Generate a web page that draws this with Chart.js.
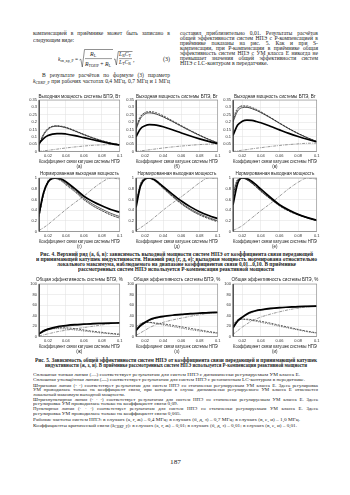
<!DOCTYPE html>
<html><head><meta charset="utf-8">
<script src="https://cdn.jsdelivr.net/npm/chart.js@4.4.1/dist/chart.umd.min.js"></script>
<style>
html,body{margin:0;padding:0;background:#fff;}
#page{position:relative;width:350px;height:495px;overflow:hidden;background:#fff;}
canvas{position:absolute;}
sub{font-size:70%;vertical-align:-0.25em;line-height:0;}
</style></head><body><div id="page"></div>
<script>
// ---------- data ----------
const kCoupling = [0.01,0.015,0.02,0.025,0.03,0.035,0.04,0.05,0.06,0.07,0.08,0.09,0.1];
const xTickVals = [0.02,0.04,0.06,0.08,0.1];
const xTickLabels = ['0.02','0.04','0.06','0.08','0.1'];
const powTickVals = [0,0.05,0.1,0.15,0.2,0.25,0.3,0.35];
const powTickLabels = ['0','0.05','0.1','0.15','0.2','0.25','0.3','0.35'];
const normTickVals = [0,0.2,0.4,0.6,0.8,1];
const normTickLabels = ['0','0.2','0.4','0.6','0.8','1'];
const effTickVals = [0,20,40,60,80,100];
const effTickLabels = ['0','20','40','60','80','100'];

// (а) 0.4 MHz output power, W
const powA_lc   = [0.055,0.088,0.108,0.118,0.122,0.122,0.119,0.108,0.094,0.080,0.066,0.054,0.044];
const powA_dyn  = [0.040,0.110,0.150,0.168,0.172,0.169,0.162,0.140,0.115,0.092,0.073,0.057,0.046];
const powA_stPk = [0.045,0.115,0.155,0.171,0.175,0.172,0.165,0.142,0.117,0.094,0.074,0.058,0.047];
const powA_st09 = [0.000,0.004,0.008,0.012,0.016,0.020,0.024,0.031,0.037,0.042,0.045,0.047,0.046];
const powA_st005= [0.050,0.120,0.157,0.171,0.173,0.169,0.161,0.137,0.112,0.090,0.071,0.056,0.044];
// (б) 0.7 MHz
const powB_lc   = [0.100,0.155,0.175,0.182,0.181,0.176,0.168,0.148,0.126,0.105,0.086,0.069,0.054];
const powB_dyn  = [0.150,0.225,0.255,0.262,0.258,0.248,0.235,0.205,0.172,0.140,0.110,0.082,0.058];
const powB_stPk = [0.160,0.235,0.265,0.272,0.268,0.257,0.243,0.210,0.176,0.143,0.112,0.084,0.060];
const powB_st09 = [0.000,0.004,0.008,0.012,0.016,0.020,0.024,0.031,0.037,0.042,0.047,0.050,0.052];
const powB_st005= [0.175,0.240,0.262,0.266,0.260,0.249,0.235,0.203,0.170,0.138,0.108,0.081,0.057];
// (в) 1.0 MHz
const powC_lc   = [0.110,0.180,0.205,0.213,0.211,0.204,0.195,0.172,0.147,0.123,0.102,0.083,0.066];
const powC_dyn  = [0.200,0.275,0.298,0.300,0.292,0.280,0.265,0.230,0.192,0.155,0.122,0.093,0.068];
const powC_stPk = [0.210,0.288,0.310,0.310,0.300,0.287,0.270,0.233,0.194,0.157,0.123,0.094,0.068];
const powC_st09 = [0.000,0.004,0.009,0.013,0.018,0.022,0.026,0.034,0.041,0.047,0.052,0.056,0.057];
const powC_st005= [0.230,0.295,0.308,0.303,0.293,0.280,0.264,0.229,0.191,0.154,0.121,0.092,0.066];

// (г) normalised output power, 0.4 MHz
const normA_lc   = [0.33,0.72,0.92,0.99,1.00,0.98,0.93,0.80,0.66,0.56,0.48,0.41,0.36];
const normA_dyn  = [0.28,0.70,0.93,1.00,0.99,0.96,0.90,0.77,0.62,0.51,0.42,0.34,0.28];
const normA_stPk = [0.27,0.68,0.92,1.00,0.99,0.95,0.88,0.75,0.60,0.48,0.39,0.31,0.25];
const normA_st09 = [0.02,0.07,0.13,0.20,0.27,0.34,0.41,0.54,0.66,0.80,0.92,1.00,0.98];
const normA_st005= [0.30,0.72,0.95,1.00,0.98,0.94,0.87,0.74,0.59,0.48,0.39,0.31,0.25];
// (д) 0.7 MHz
const normB_lc   = [0.45,0.85,0.98,1.00,0.97,0.91,0.84,0.70,0.57,0.46,0.37,0.30,0.24];
const normB_dyn  = [0.50,0.88,0.99,1.00,0.96,0.90,0.82,0.67,0.53,0.42,0.33,0.26,0.20];
const normB_stPk = [0.48,0.87,0.99,1.00,0.96,0.89,0.81,0.66,0.52,0.40,0.31,0.24,0.18];
const normB_st09 = [0.02,0.07,0.13,0.19,0.26,0.33,0.40,0.53,0.65,0.78,0.91,1.00,0.99];
const normB_st005= [0.55,0.90,1.00,0.99,0.95,0.88,0.80,0.65,0.51,0.40,0.31,0.24,0.19];
// (е) 1.0 MHz
const normC_lc   = [0.50,0.90,1.00,0.99,0.94,0.87,0.79,0.64,0.50,0.40,0.32,0.26,0.21];
const normC_dyn  = [0.68,0.96,1.00,0.97,0.91,0.84,0.76,0.62,0.49,0.39,0.32,0.26,0.21];
const normC_stPk = [0.66,0.95,1.00,0.97,0.91,0.83,0.75,0.61,0.48,0.38,0.31,0.25,0.20];
const normC_st09 = [0.02,0.06,0.11,0.18,0.25,0.32,0.39,0.52,0.66,0.80,0.92,1.00,0.98];
const normC_st005= [0.75,0.98,1.00,0.96,0.90,0.83,0.75,0.61,0.48,0.38,0.31,0.25,0.20];

// (ж) overall efficiency, %, 0.4 MHz
const effA_lc   = [5,10.5,14,16.5,18.5,20,21,22.5,23.5,24.5,25,25.5,26];
const effA_dyn  = [4,9,12.5,15,17,18.5,19.5,21.5,23,24,24.8,25.3,25.8];
const effA_stPk = [5,11,14,15.5,16.5,16.8,16.5,15,12.5,10,8,6,4.5];
const effA_st09 = [1,3,5,7,9,10.5,12,14.5,17,19.5,22,24.5,26];
const effA_st005= [7,12,13.5,14.5,15,14.8,14.3,12.5,10.5,8.5,6.5,5,3.5];
// (з) 0.7 MHz
const effB_lc   = [12,21,27,32,35,37,38.5,40.5,42,43.5,44.5,45.5,46];
const effB_dyn  = [10,19,25.5,30.5,34,36,37.5,40,41.5,43,44,45,45.5];
const effB_stPk = [15,23,26.5,27,26,25,24,21.5,18.5,15.5,12.5,9.5,7];
const effB_st09 = [2,7,12,17,21,24.5,27,31.5,35,38.5,41.5,44,45.5];
const effB_st005= [18,25,27,26.5,25,23.5,22,19,16,13,10.5,8,6];
// (и) 1.0 MHz
const effC_lc   = [17,30,37,43,47,49.5,51,53.5,55,56,57,57.5,58];
const effC_dyn  = [15,28,35.5,41.5,45.5,48.5,50,52.5,54.5,55.5,56.5,57.5,58];
const effC_stPk = [20,30,33,33,32,30.5,29,25.5,21.5,17.5,13.5,10,7];
const effC_st09 = [4,11,18,24,29.5,33.5,37,42.5,47,51,54,56.5,58];
const effC_st005= [24,32,33,32,30.5,29,27,23.5,19.5,16,12.5,9,6.5];

const titlePow = 'Выходная мощность системы БПЭ, Вт';
const titleNorm = 'Нормированная выходная мощность';
const titleEff = 'Общая эффективность системы БПЭ, %';
const xAxisTitle = 'Коэффициент связи катушек системы НПЭ';

// ---------- page helpers ----------
const page = document.getElementById('page');
const SERIF = '"Liberation Serif","Times New Roman",serif';
const SANS = '"Liberation Sans",Arial,sans-serif';
function txt(x, yc, w, html, o = {}) {
  const size = o.size || 5;
  const d = document.createElement('div');
  d.style.cssText = `position:absolute;white-space:nowrap;font-family:${o.fam||SERIF};font-size:${size}px;line-height:${size}px;font-weight:${o.bold?'bold':'normal'};font-style:${o.italic?'italic':'normal'};color:#1c1c1c;`;
  d.innerHTML = html;
  page.appendChild(d);
  const tw = d.getBoundingClientRect().width;
  if (o.mode === 'justify' && w) {
    const n = (d.textContent.match(/ /g) || []).length;
    if (n && tw < w) d.style.wordSpacing = ((w - tw) / n) + 'px';
    else if (tw > w) { d.style.transformOrigin = '0 50%'; d.style.transform = `scaleX(${w/tw})`; }
  } else if (o.mode === 'fit' && w) {
    d.style.transformOrigin = '0 50%'; d.style.transform = `scaleX(${w/tw})`;
  }
  d.style.left = x + 'px';
  d.style.top = (yc - size / 2) + 'px';
  return d;
}

// ---------- top text ----------
const TS = 5.6;
txt(33, 34, 137, 'компенсацией в приёмнике может быть записано в', {size:TS, mode:'justify'});
txt(33, 40.5, 41, 'следующем виде:', {size:TS, mode:'fit'});
txt(42, 76, 128, 'В результате расчётов по формуле (3) параметр', {size:TS, mode:'justify'});
txt(33, 81.5, 137, '<i>k</i><sub>СВКР_Р</sub> при рабочих частотах 0,4 МГц, 0,7 МГц и 1 МГц', {size:TS, mode:'justify'});
const rightCol = [
  ['составил приблизительно 0,01. Результаты расчётов', 'justify', 138],
  ['общей эффективности систем НПЭ с Р-компенсацией в', 'justify', 138],
  ['приёмнике показаны на рис. 5. Как и при S-', 'justify', 138],
  ['компенсации, при Р-компенсации в приёмнике общая', 'justify', 138],
  ['эффективность систем НПЭ с УМ класса Е никогда не', 'justify', 138],
  ['превышает значения общей эффективности систем', 'justify', 138],
  ['НПЭ с LC-контуром в передатчике.', 'fit', 88]
];
rightCol.forEach((r, i) => txt(180, 34 + i * 5, r[2], r[0], {size:TS, mode:r[1]}));

// formula (3)
txt(58, 59, 20, '<i>k</i><sub>св_кр_Р</sub> =', {size:6, mode:'fit'});
txt(90, 54, 12, '<i>R</i><sub>L</sub>', {size:6});
txt(85, 63.5, 26, '<i>R</i><sub>ТОНР</sub> + <i>R</i><sub>L</sub>', {size:6, mode:'fit'});
txt(119, 55, 12, '<i>L</i><sub>R</sub><i>C</i><sub>T</sub>', {size:5.5, mode:'fit'});
txt(119, 62.5, 12, '<i>L</i><sub>T</sub><i>C</i><sub>R</sub>', {size:5.5, mode:'fit'});
txt(133, 60, 3, ',', {size:6});
txt(163, 59, 8, '(3)', {size:6});
const svgNS = 'http://www.w3.org/2000/svg';
const svg = document.createElementNS(svgNS, 'svg');
svg.setAttribute('width', 350); svg.setAttribute('height', 100);
svg.style.cssText = 'position:absolute;left:0;top:0;';
svg.innerHTML = `
<path d="M79.5,60 L80.8,59.2 L82.3,67 L84.5,49.5 L113,49.5" fill="none" stroke="#222" stroke-width="0.5"/>
<line x1="85" y1="58.6" x2="112" y2="58.6" stroke="#222" stroke-width="0.45"/>
<path d="M114,59.5 L115,58.9 L116.4,65 L118.3,51.5 L132.5,51.5" fill="none" stroke="#222" stroke-width="0.5"/>
<line x1="119" y1="58.6" x2="132" y2="58.6" stroke="#222" stroke-width="0.45"/>`;
page.appendChild(svg);

// ---------- captions and body ----------
const CS = 5.2;
txt(40, 255, 273, 'Рис. 4. Верхний ряд (а, б, в): зависимость выходной мощности систем НПЭ от коэффициента связи передающей', {size:CS, bold:true, mode:'fit'});
txt(36, 260, 281, 'и принимающей катушек индуктивности. Нижний ряд (г, д, е): выходная мощность нормирована относительно', {size:CS, bold:true, mode:'fit'});
txt(57, 265, 239, 'локального максимума, наблюдаемого на диапазоне коэффициентов связи 0,01...0,10. В приёмнике', {size:CS, bold:true, mode:'fit'});
txt(78, 269.7, 196, 'рассмотренных систем НПЭ используется Р-компенсация реактивной мощности', {size:CS, bold:true, mode:'fit'});
txt(35, 360.7, 282, 'Рис. 5. Зависимость общей эффективности систем НПЭ от коэффициента связи передающей и принимающей катушек', {size:CS, bold:true, mode:'fit'});
txt(45, 365.4, 262, 'индуктивности (ж, з, и). В приёмнике рассмотренных систем НПЭ используется Р-компенсация реактивной мощности', {size:CS, bold:true, mode:'fit'});

const BS = 4.9;
const body = [
  [375.3, 'Сплошная тонкая линия (—) соответствует результатам для систем НПЭ с динамически регулируемым УМ класса Е.', 'fit', 267],
  [380.6, 'Сплошная утолщённая линия (<b>—</b>) соответствует результатам для систем НПЭ с резонансным LC-контуром в передатчике.', 'fit', 272],
  [386, 'Штриховая линия (- -) соответствует результатам для систем НПЭ со статически регулируемым УМ класса Е. Здесь регулировка', 'justify', 285],
  [390.7, 'УМ проводилась только на коэффициент связи, при котором в случае динамически регулируемого УМ класса Е отмечается', 'justify', 285],
  [395.3, 'локальный максимум выходной мощности.', 'fit', 92],
  [400, 'Штрихпунктирная линия (- · -) соответствует результатам для систем НПЭ со статически регулируемым УМ класса Е. Здесь', 'justify', 285],
  [404.7, 'регулировка УМ проводилась только на коэффициент связи 0,09.', 'fit', 145],
  [409.3, 'Пунктирная линия (· · ·) соответствует результатам для систем НПЭ со статически регулируемым УМ класса Е. Здесь', 'justify', 285],
  [414, 'регулировка УМ проводилась только на коэффициент связи 0,005.', 'fit', 148],
  [420, 'Рабочие частоты систем НПЭ: в случаях (а, г, ж) – 0,4 МГц; в случаях (б, д, з) – 0,7 МГц; в случаях (в, е, и) – 1,0 МГц.', 'fit', 267],
  [426.7, 'Коэффициенты критической связи (<i>k</i><sub>СВКР_Р</sub>): в случаях (а, г, ж) – 0,01; в случаях (б, д, з) – 0,01; в случаях (в, е, и) – 0,01.', 'fit', 264]
];
body.forEach(b => txt(33, b[0], b[3], b[1], {size:BS, mode:b[2]}));
txt(170, 463, 11, '187', {size:5.6, mode:'fit'});

// ---------- charts ----------
const lineStyles = [
  {borderColor:'#000', borderWidth:1.7, borderDash:[]},            // LC contour
  {borderColor:'#1a1a1a', borderWidth:0.7, borderDash:[]},          // dynamic class E
  {borderColor:'#333', borderWidth:0.8, borderDash:[2,1.2]},        // static @ peak
  {borderColor:'#555', borderWidth:0.6, borderDash:[3,1,0.8,1]},    // static @ 0.09
  {borderColor:'#333', borderWidth:0.8, borderDash:[0.8,1]}         // static @ 0.005
];
const boxPlugin = {
  id:'box',
  afterDraw(c) {
    const {ctx, chartArea:a} = c;
    ctx.save();
    ctx.strokeStyle = '#8a8a8a'; ctx.lineWidth = 0.6;
    ctx.strokeRect(a.left, a.top, a.right - a.left, a.bottom - a.top);
    ctx.strokeStyle = '#222'; ctx.lineWidth = 0.7;
    ctx.beginPath(); ctx.moveTo(a.left, a.top); ctx.lineTo(a.left, a.bottom); ctx.stroke();
    // panel title, centred over the plot area
    const t = c.options.plugins.panelTitle;
    if (t) {
      ctx.fillStyle = '#222';
      ctx.font = `4.6px ${SANS}`;
      ctx.textAlign = 'center'; ctx.textBaseline = 'middle';
      ctx.fillText(t.text, (a.left + a.right) / 2, a.top - t.gap);
    }
    ctx.restore();
  }
};

function buildConfig(seriesList, yMin, yMax, yVals, yLabels, title, letter, gap) {
  return {
    type:'line',
    data:{datasets: seriesList.map((arr, i) => Object.assign({
      data: kCoupling.map((x, j) => ({x, y: arr[j]})),
      pointRadius:0, fill:false, cubicInterpolationMode:'monotone'
    }, lineStyles[i]))},
    options:{
      responsive:false, animation:false, devicePixelRatio:1,
      layout:{padding:{top:7, left:0, right:0, bottom:0}},
      plugins:{
        legend:{display:false}, tooltip:{enabled:false}, title:{display:false},
        panelTitle:{text:title, gap:gap}
      },
      scales:{
        x:{type:'linear', min:0.01, max:0.1,
           afterBuildTicks: ax => { ax.ticks = xTickVals.map(v => ({value:v})); },
           afterFit: ax => { ax.height = 17.5; },
           ticks:{font:{family:SANS, size:4}, color:'#333', padding:1.5, maxRotation:0, autoSkip:false,
                  callback:(v, i) => xTickLabels[i]},
           grid:{color:'#dedede', lineWidth:0.5, drawTicks:false},
           border:{display:true, color:'#888', width:0.6},
           title:{display:true, text:[xAxisTitle, letter], color:'#222', font:{family:SANS, size:4.5, lineHeight:1.1}, padding:{top:0, bottom:0}}
        },
        y:{type:'linear', min:yMin, max:yMax,
           afterBuildTicks: ax => { ax.ticks = yVals.map(v => ({value:v})); },
           afterFit: ax => { ax.width = 12; },
           ticks:{font:{family:SANS, size:4}, color:'#333', padding:2, autoSkip:false,
                  callback:(v, i) => yLabels[i]},
           grid:{color:'#dedede', lineWidth:0.5, drawTicks:false},
           border:{display:true, color:'#222', width:0.7}
        }
      }
    },
    plugins:[boxPlugin]
  };
}

function placeChart(makeCfg, box) {
  const cv = document.createElement('canvas');
  page.appendChild(cv);
  let W = Math.round(box.r - box.l + 16), H = Math.round(box.b - box.t + 28);
  cv.width = W; cv.height = H; cv.style.width = W + 'px'; cv.style.height = H + 'px';
  let ch = new Chart(cv, makeCfg());
  let a = ch.chartArea;
  W = Math.round(W + (box.r - box.l) - (a.right - a.left));
  H = Math.round(H + (box.b - box.t) - (a.bottom - a.top));
  ch.destroy();
  cv.width = W; cv.height = H; cv.style.width = W + 'px'; cv.style.height = H + 'px';
  ch = new Chart(cv, makeCfg());
  a = ch.chartArea;
  cv.style.left = Math.round(box.l - a.left) + 'px';
  cv.style.top = Math.round(box.t - a.top) + 'px';
}

const cols = [{l:39, r:119.5}, {l:136, r:218}, {l:233, r:317}];
const rows = [{t:99.5, b:151, gap:3.6}, {t:177.5, b:230.5, gap:4.3}, {t:283.5, b:335.5, gap:3.8}];
const chartDefs = [
  [0,0,[powA_lc,powA_dyn,powA_stPk,powA_st09,powA_st005],0,0.35,powTickVals,powTickLabels,titlePow,'(а)'],
  [0,1,[powB_lc,powB_dyn,powB_stPk,powB_st09,powB_st005],0,0.35,powTickVals,powTickLabels,titlePow,'(б)'],
  [0,2,[powC_lc,powC_dyn,powC_stPk,powC_st09,powC_st005],0,0.35,powTickVals,powTickLabels,titlePow,'(в)'],
  [1,0,[normA_lc,normA_dyn,normA_stPk,normA_st09,normA_st005],0,1,normTickVals,normTickLabels,titleNorm,'(г)'],
  [1,1,[normB_lc,normB_dyn,normB_stPk,normB_st09,normB_st005],0,1,normTickVals,normTickLabels,titleNorm,'(д)'],
  [1,2,[normC_lc,normC_dyn,normC_stPk,normC_st09,normC_st005],0,1,normTickVals,normTickLabels,titleNorm,'(е)'],
  [2,0,[effA_lc,effA_dyn,effA_stPk,effA_st09,effA_st005],0,100,effTickVals,effTickLabels,titleEff,'(ж)'],
  [2,1,[effB_lc,effB_dyn,effB_stPk,effB_st09,effB_st005],0,100,effTickVals,effTickLabels,titleEff,'(з)'],
  [2,2,[effC_lc,effC_dyn,effC_stPk,effC_st09,effC_st005],0,100,effTickVals,effTickLabels,titleEff,'(и)']
];
chartDefs.forEach(d => {
  const row = rows[d[0]], col = cols[d[1]];
  const box = {l:col.l, r:col.r, t:row.t, b:row.b};
  placeChart(() => buildConfig(d[2], d[3], d[4], d[5], d[6], d[7], d[8], row.gap), box);
});
</script>
</body></html>
